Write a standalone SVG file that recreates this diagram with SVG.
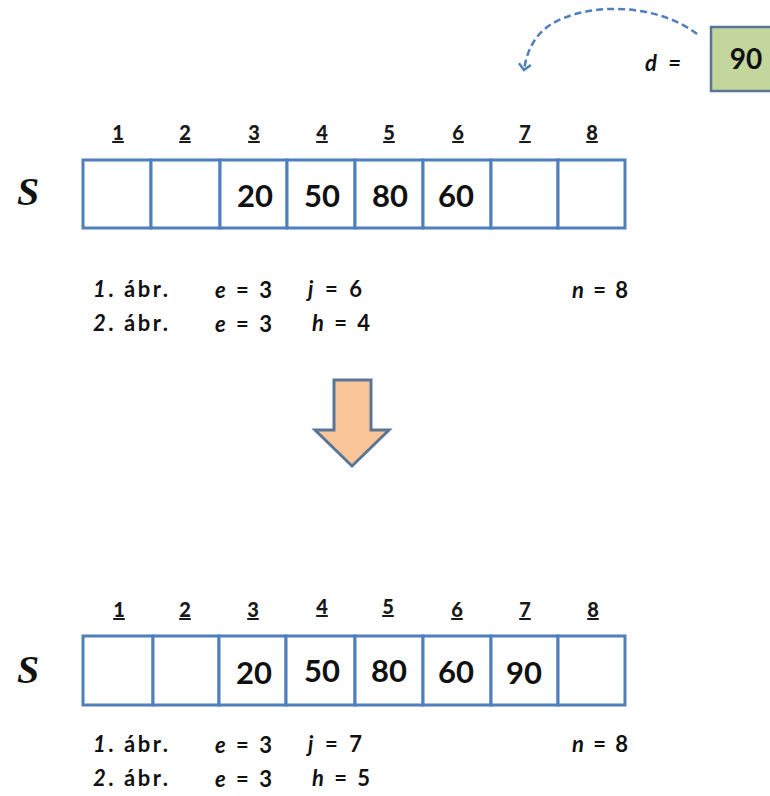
<svg xmlns="http://www.w3.org/2000/svg" width="770" height="796" viewBox="0 0 770 796">
  <style>
    .cell { fill: #ffffff; stroke: #4f7fbd; stroke-width: 3; }
    .idx { font-family: Lato, "Open Sans", "Liberation Sans", sans-serif; font-weight: 900; font-size: 20px; fill: #1a1a1a; text-anchor: middle; text-decoration: underline; }
    .val { font-family: Lato, "Open Sans", "Liberation Sans", sans-serif; font-weight: bold; font-size: 31px; fill: #111; text-anchor: middle; }
    .lbl { font-family: Lato, "Open Sans", "Liberation Sans", sans-serif; font-weight: bold; font-size: 22px; fill: #111; }
    .it { font-style: italic; }
    .S { font-family: "Liberation Serif", serif; font-weight: bold; font-style: italic; font-size: 40px; fill: #111; }
  </style>
  <defs>
    <marker id="openHead" markerWidth="14" markerHeight="14" refX="7" refY="7" orient="auto" markerUnits="userSpaceOnUse">
      <path d="M1,1 L7,7 L1,13" fill="none" stroke="#4f7fbd" stroke-width="2.5"/>
    </marker>
  </defs>

  <!-- value to insert -->
  <g id="d-box">
    <rect x="711" y="27" width="70" height="64" fill="#c3d69b" stroke="#5a7696" stroke-width="2.5"/>
    <text class="val" x="746" y="69" style="font-size:28px">90</text>
    <text class="lbl it" x="645" y="71" textLength="36" lengthAdjust="spacing">d =</text>
  </g>

  <g id="connectors">
    <path d="M697,34 C660,5 590,0 550,25 C535,35 527,50 524,70" fill="none" stroke="#4f7fbd" stroke-width="2.5" stroke-dasharray="7,4" marker-end="url(#openHead)"/>
  </g>

  <!-- array before insertion -->
  <g id="array-before">
    <text class="S" x="17" y="205">S</text>
    <rect class="cell" x="83" y="160" width="68" height="68"/>
    <rect class="cell" x="151" y="160" width="69" height="68"/>
    <rect class="cell" x="220" y="160" width="67" height="68"/>
    <rect class="cell" x="287" y="160" width="68" height="68"/>
    <rect class="cell" x="355" y="160" width="68" height="68"/>
    <rect class="cell" x="423" y="160" width="68" height="68"/>
    <rect class="cell" x="491" y="160" width="67" height="68"/>
    <rect class="cell" x="558" y="160" width="67" height="68"/>
    <text class="idx" x="118" y="140">1</text>
    <text class="idx" x="185" y="140">2</text>
    <text class="idx" x="254" y="140">3</text>
    <text class="idx" x="322" y="140">4</text>
    <text class="idx" x="389" y="140">5</text>
    <text class="idx" x="458" y="140">6</text>
    <text class="idx" x="525" y="140">7</text>
    <text class="idx" x="592" y="140">8</text>
    <text class="val" x="255" y="207">20</text>
    <text class="val" x="322" y="207">50</text>
    <text class="val" x="390" y="207">80</text>
    <text class="val" x="456" y="207">60</text>
  </g>
  <g id="vars-before">
    <text class="lbl" x="93" y="297" textLength="75" lengthAdjust="spacing"><tspan class="it">1</tspan>. ábr.</text>
    <text class="lbl" x="93" y="331" textLength="75" lengthAdjust="spacing"><tspan class="it">2</tspan>. ábr.</text>
    <text class="lbl" x="215" y="298" textLength="57" lengthAdjust="spacing"><tspan class="it">e</tspan> = 3</text>
    <text class="lbl" x="215" y="332" textLength="57" lengthAdjust="spacing"><tspan class="it">e</tspan> = 3</text>
    <text class="lbl" x="308" y="297" textLength="54" lengthAdjust="spacing"><tspan class="it">j</tspan> = 6</text>
    <text class="lbl" x="312" y="331" textLength="58" lengthAdjust="spacing"><tspan class="it">h</tspan> = 4</text>
    <text class="lbl" x="572" y="298" textLength="56" lengthAdjust="spacing"><tspan class="it">n</tspan> = 8</text>
  </g>

  <!-- transition arrow -->
  <g id="down-arrow">
    <path d="M334,380 L371,380 L371,430 L389,430 L352,466 L315,430 L334,430 Z" fill="#fbc59a" stroke="#5a7696" stroke-width="3" stroke-linejoin="miter"/>
  </g>

  <!-- array after insertion -->
  <g id="array-after">
    <text class="S" x="17" y="683">S</text>
    <rect class="cell" x="83" y="636" width="70" height="69"/>
    <rect class="cell" x="153" y="636" width="66" height="69"/>
    <rect class="cell" x="219" y="636" width="67" height="69"/>
    <rect class="cell" x="286" y="636" width="69" height="69"/>
    <rect class="cell" x="355" y="636" width="68" height="69"/>
    <rect class="cell" x="423" y="636" width="68" height="69"/>
    <rect class="cell" x="491" y="636" width="67" height="69"/>
    <rect class="cell" x="558" y="636" width="67" height="69"/>
    <text class="idx" x="119" y="617">1</text>
    <text class="idx" x="185" y="617">2</text>
    <text class="idx" x="253" y="617">3</text>
    <text class="idx" x="322" y="614">4</text>
    <text class="idx" x="388" y="614">5</text>
    <text class="idx" x="457" y="617">6</text>
    <text class="idx" x="525" y="617">7</text>
    <text class="idx" x="593" y="617">8</text>
    <text class="val" x="254" y="684">20</text>
    <text class="val" x="322" y="682">50</text>
    <text class="val" x="389" y="682">80</text>
    <text class="val" x="456" y="683">60</text>
    <text class="val" x="524" y="684">90</text>
  </g>
  <g id="vars-after">
    <text class="lbl" x="93" y="752" textLength="75" lengthAdjust="spacing"><tspan class="it">1</tspan>. ábr.</text>
    <text class="lbl" x="93" y="786" textLength="75" lengthAdjust="spacing"><tspan class="it">2</tspan>. ábr.</text>
    <text class="lbl" x="215" y="753" textLength="57" lengthAdjust="spacing"><tspan class="it">e</tspan> = 3</text>
    <text class="lbl" x="215" y="787" textLength="57" lengthAdjust="spacing"><tspan class="it">e</tspan> = 3</text>
    <text class="lbl" x="308" y="752" textLength="54" lengthAdjust="spacing"><tspan class="it">j</tspan> = 7</text>
    <text class="lbl" x="312" y="786" textLength="58" lengthAdjust="spacing"><tspan class="it">h</tspan> = 5</text>
    <text class="lbl" x="572" y="752" textLength="56" lengthAdjust="spacing"><tspan class="it">n</tspan> = 8</text>
  </g>
</svg>
